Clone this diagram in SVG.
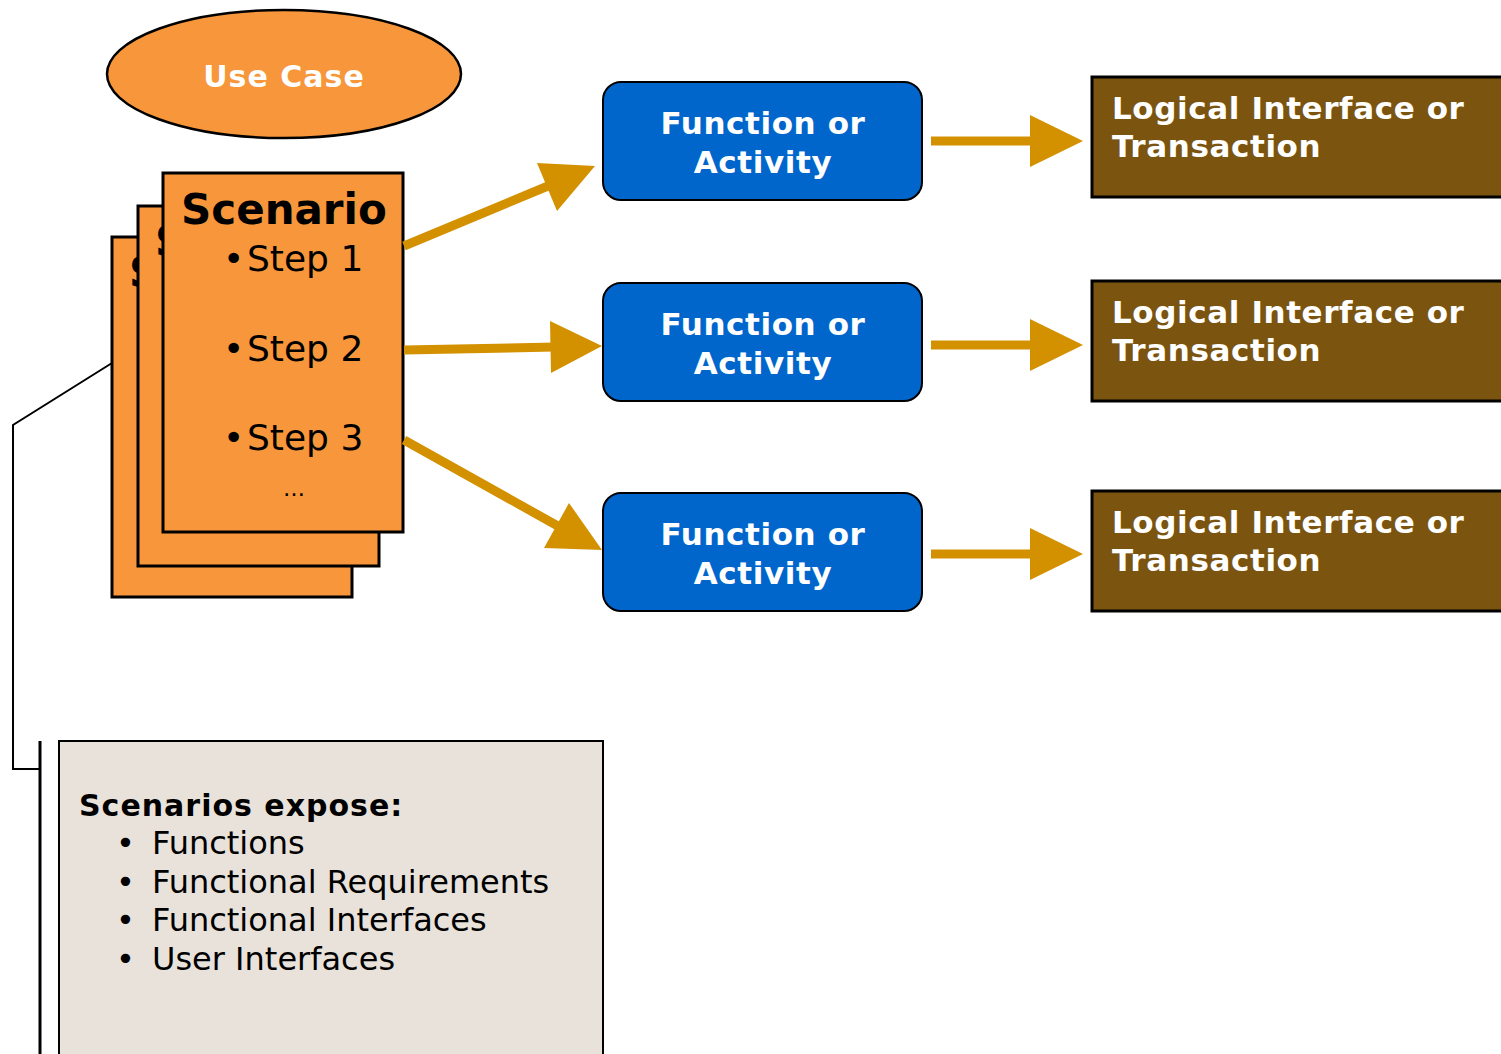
<svg xmlns="http://www.w3.org/2000/svg" width="1501" height="1054" viewBox="0 0 1501 1054">
  <style>
    .page { fill: #F7963A; stroke: #000; stroke-width: 3; }
    .func { fill: #0066CC; stroke: #000; stroke-width: 2; }
    .iface { fill: #7B5410; stroke: #000; stroke-width: 3; }
    .note { fill: #E8E2DA; stroke: #000; stroke-width: 2; }
    .bold { font-family: "DejaVu Sans", Verdana, sans-serif; font-weight: bold; }
    .reg { font-family: "DejaVu Sans", Verdana, sans-serif; }
    .white { fill: #fff; }
    .spaced { letter-spacing: 0.6px; }
    .flow { stroke: #D39100; stroke-width: 9; fill: none; }
    .head { fill: #D39100; }
    .callout { stroke: #000; stroke-width: 2; fill: none; }
  </style>

  <rect width="1501" height="1054" fill="#fff"/>

  <!-- Use case ellipse -->
  <g id="use-case">
    <ellipse cx="284" cy="74" rx="177" ry="64" fill="#F7963A" stroke="#000" stroke-width="2.5"/>
    <text x="284" y="87" text-anchor="middle" class="bold white" font-size="30" letter-spacing="1">Use Case</text>
  </g>

  <!-- Stack of scenario pages (only the first letter of the lower titles peeks out) -->
  <g id="scenario-back">
    <rect class="page" x="112" y="237" width="240" height="360"/>
    <text x="129" y="287" class="bold" font-size="42">S</text>
  </g>
  <g id="scenario-middle">
    <rect class="page" x="138" y="206" width="241" height="360"/>
    <text x="155" y="256" class="bold" font-size="42">S</text>
  </g>
  <g id="scenario">
    <rect class="page" x="163" y="173" width="240" height="359"/>
    <text x="181" y="224" class="bold" font-size="42">Scenario</text>
    <g class="reg" font-size="36">
      <text x="223" y="271">•</text><text x="247" y="271">Step 1</text>
      <text x="223" y="361">•</text><text x="247" y="361">Step 2</text>
      <text x="223" y="450">•</text><text x="247" y="450">Step 3</text>
    </g>
    <text x="294" y="496" text-anchor="middle" class="reg" font-size="22">…</text>
  </g>

  <!-- Functions / activities -->
  <g id="function-1">
    <rect class="func" x="603" y="82" width="319" height="118" rx="18"/>
    <text x="763" y="134" text-anchor="middle" class="bold white spaced" font-size="31">Function or</text>
    <text x="763" y="173" text-anchor="middle" class="bold white spaced" font-size="31">Activity</text>
  </g>
  <g id="function-2">
    <rect class="func" x="603" y="283" width="319" height="118" rx="18"/>
    <text x="763" y="335" text-anchor="middle" class="bold white spaced" font-size="31">Function or</text>
    <text x="763" y="374" text-anchor="middle" class="bold white spaced" font-size="31">Activity</text>
  </g>
  <g id="function-3">
    <rect class="func" x="603" y="493" width="319" height="118" rx="18"/>
    <text x="763" y="545" text-anchor="middle" class="bold white spaced" font-size="31">Function or</text>
    <text x="763" y="584" text-anchor="middle" class="bold white spaced" font-size="31">Activity</text>
  </g>

  <!-- Logical interfaces / transactions -->
  <g id="interface-1">
    <rect class="iface" x="1092" y="77" width="420" height="120"/>
    <text x="1112" y="119" class="bold white spaced" font-size="31">Logical Interface or</text>
    <text x="1112" y="157" class="bold white spaced" font-size="31">Transaction</text>
  </g>
  <g id="interface-2">
    <rect class="iface" x="1092" y="281" width="420" height="120"/>
    <text x="1112" y="323" class="bold white spaced" font-size="31">Logical Interface or</text>
    <text x="1112" y="361" class="bold white spaced" font-size="31">Transaction</text>
  </g>
  <g id="interface-3">
    <rect class="iface" x="1092" y="491" width="420" height="120"/>
    <text x="1112" y="533" class="bold white spaced" font-size="31">Logical Interface or</text>
    <text x="1112" y="571" class="bold white spaced" font-size="31">Transaction</text>
  </g>

  <!-- Note box -->
  <g id="note">
    <rect class="note" x="59" y="741" width="544" height="330"/>
    <text x="79" y="816" class="bold" font-size="30" letter-spacing="1">Scenarios expose:</text>
    <g class="reg" font-size="32">
      <text x="116" y="854">•</text><text x="152" y="854">Functions</text>
      <text x="116" y="893">•</text><text x="152" y="893">Functional Requirements</text>
      <text x="116" y="931">•</text><text x="152" y="931">Functional Interfaces</text>
      <text x="116" y="970">•</text><text x="152" y="970">User Interfaces</text>
    </g>
  </g>

  <!-- Connectors -->
  <g id="connectors">
    <line class="flow" x1="404" y1="246" x2="560" y2="181"/>
    <polygon class="head" points="537,163 595,166 557,211"/>
    <line class="flow" x1="404" y1="350" x2="555" y2="347"/>
    <polygon class="head" points="550,321 602,346 551,373"/>
    <line class="flow" x1="404" y1="440" x2="565" y2="530"/>
    <polygon class="head" points="569,503 602,550 544,548"/>

    <line class="flow" x1="931" y1="141" x2="1035" y2="141"/>
    <polygon class="head" points="1030,115 1083,141 1030,167"/>
    <line class="flow" x1="931" y1="345" x2="1035" y2="345"/>
    <polygon class="head" points="1030,319 1083,345 1030,371"/>
    <line class="flow" x1="931" y1="554" x2="1035" y2="554"/>
    <polygon class="head" points="1030,528 1083,554 1030,580"/>

    <polyline class="callout" points="112,363 13,425 13,769 40,769"/>
    <line x1="40" y1="741" x2="40" y2="1054" stroke="#000" stroke-width="3"/>
  </g>
</svg>
